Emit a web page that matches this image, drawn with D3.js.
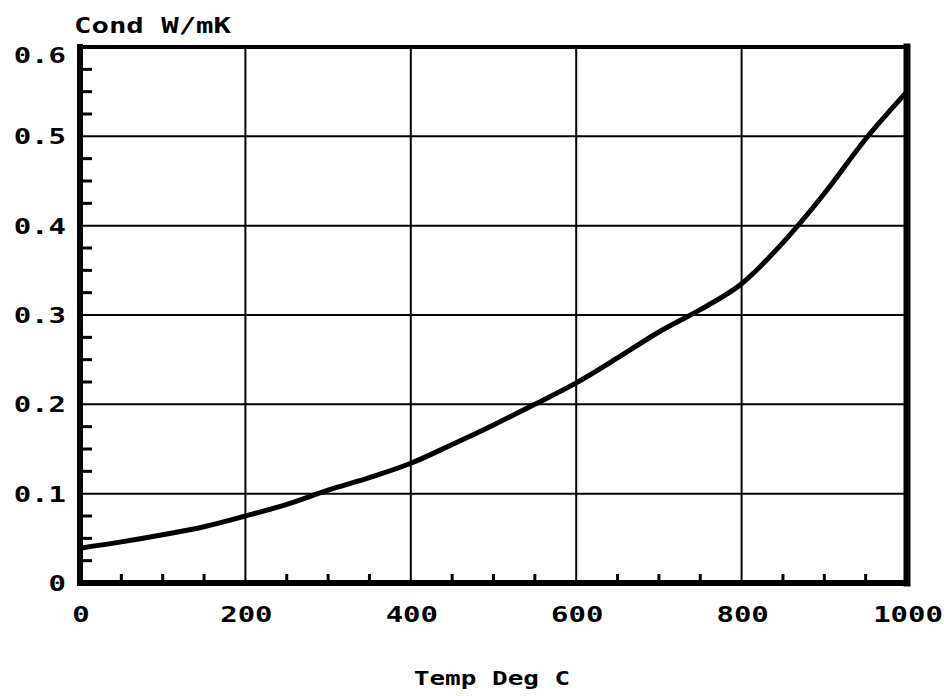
<!DOCTYPE html>
<html>
<head>
<meta charset="utf-8">
<script src="https://cdn.jsdelivr.net/npm/d3@7"></script>
<style>
  body { margin: 0; background: #fff; }
  text { font-family: "DejaVu Sans Mono", "Liberation Mono", monospace; font-weight: bold; fill: #000; }
</style>
</head>
<body>
<div id="chart"></div>
<script>
// temperature (deg C) and conductivity (W/mK)
const temps = [0, 50, 100, 150, 200, 250, 300, 350, 400, 450, 500, 550, 600, 650, 700, 750, 800, 850, 900, 950, 1000]
const cond = [0.039, 0.046, 0.054, 0.063, 0.075, 0.088, 0.104, 0.118, 0.134, 0.155, 0.177, 0.200, 0.224, 0.252, 0.281, 0.306, 0.335, 0.381, 0.436, 0.497, 0.550]

const xTicks = [0, 200, 400, 600, 800, 1000]
const yTicks = [0, 0.1, 0.2, 0.3, 0.4, 0.5, 0.6]
const xTickLabels = ['0', '200', '400', '600', '800', '1000']
const yTickLabels = ['0', '0.1', '0.2', '0.3', '0.4', '0.5', '0.6']
const xMinor = d3.range(0, 1001, 50).filter(d => d % 200 !== 0)
const yMinor = d3.range(0, 0.6001, 0.025).filter(d => Math.abs(d * 10 - Math.round(d * 10)) > 1e-6)

var width = 944
var height = 696
var margin = {top: 47, right: 37, bottom: 113, left: 80}
var innerWidth = width - margin.left - margin.right
var innerHeight = height - margin.top - margin.bottom
var stretch = 1.38   // plotter font is wide, stretch glyphs horizontally

const svg = d3.select('#chart')
    .append('svg').attr('width', width).attr('height', height)
    .append('g').attr('transform', `translate(${margin.left}, ${margin.top})`)

const x = d3.scaleLinear().domain([0, 1000]).range([0, innerWidth])
const y = d3.scaleLinear().domain([0, 0.6]).range([innerHeight, 0])

// grid lines
svg.append('g').selectAll('line')
    .data(xTicks.slice(1, -1))
    .join('line')
    .attr('x1', d => x(d)).attr('x2', d => x(d))
    .attr('y1', 0).attr('y2', innerHeight)
    .attr('stroke', '#000').attr('stroke-width', 2)
svg.append('g').selectAll('line')
    .data(yTicks.slice(1, -1))
    .join('line')
    .attr('x1', 0).attr('x2', innerWidth)
    .attr('y1', d => y(d)).attr('y2', d => y(d))
    .attr('stroke', '#000').attr('stroke-width', 2)

// minor ticks, inside the frame
svg.append('g').selectAll('line')
    .data(xMinor)
    .join('line')
    .attr('x1', d => x(d)).attr('x2', d => x(d))
    .attr('y1', innerHeight).attr('y2', innerHeight - 9)
    .attr('stroke', '#000').attr('stroke-width', 3)
svg.append('g').selectAll('line')
    .data(yMinor)
    .join('line')
    .attr('x1', 0).attr('x2', 12)
    .attr('y1', d => y(d)).attr('y2', d => y(d))
    .attr('stroke', '#000').attr('stroke-width', 3)

// frame, heavier on left / bottom / right
const frame = [
    {x1: 0, y1: 0, x2: innerWidth, y2: 0, w: 4},
    {x1: 0, y1: 0, x2: 0, y2: innerHeight, w: 6},
    {x1: 0, y1: innerHeight, x2: innerWidth, y2: innerHeight, w: 6},
    {x1: innerWidth, y1: 0, x2: innerWidth, y2: innerHeight, w: 7}
]
svg.append('g').selectAll('line')
    .data(frame)
    .join('line')
    .attr('x1', d => d.x1).attr('y1', d => d.y1)
    .attr('x2', d => d.x2).attr('y2', d => d.y2)
    .attr('stroke', '#000').attr('stroke-width', d => d.w)
    .attr('stroke-linecap', 'square')

// the curve
const line = d3.line()
    .x((d, i) => x(temps[i]))
    .y(d => y(d))
    .curve(d3.curveMonotoneX)
svg.append('path')
    .datum(cond)
    .attr('d', line)
    .attr('fill', 'none')
    .attr('stroke', '#000')
    .attr('stroke-width', 5)

// tick labels
svg.append('g').selectAll('g')
    .data(xTicks)
    .join('g')
    .attr('transform', d => `translate(${x(d) + 1}, ${innerHeight + 39}) scale(${stretch}, 1)`)
    .append('text')
    .attr('text-anchor', 'middle')
    .style('font-size', '21px')
    .text((d, i) => xTickLabels[i])
svg.append('g').selectAll('g')
    .data(yTicks)
    .join('g')
    .attr('transform', d => `translate(-14, ${y(d) + 8 + (d === 0.6 ? 8 : 0)}) scale(${stretch}, 1)`)
    .append('text')
    .attr('text-anchor', 'end')
    .style('font-size', '21px')
    .text((d, i) => yTickLabels[i])

// axis titles
svg.append('g')
    .attr('transform', `translate(-6, -14) scale(${stretch}, 1)`)
    .append('text')
    .style('font-size', '21px')
    .text('Cond W/mK')
svg.append('g')
    .attr('transform', `translate(${492 - margin.left}, ${innerHeight + 102}) scale(1.3, 1)`)
    .append('text')
    .attr('text-anchor', 'middle')
    .style('font-size', '20px')
    .text('Temp Deg C')
</script>
</body>
</html>
